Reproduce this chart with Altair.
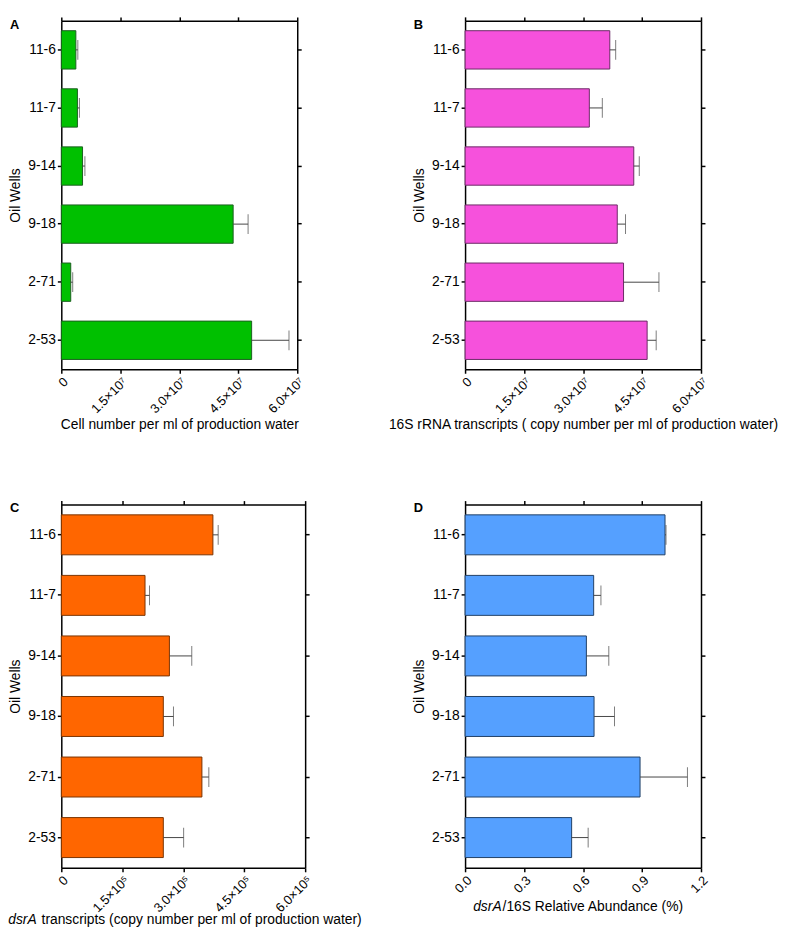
import altair as alt
import pandas as pd

wells = ["11-6", "11-7", "9-14", "9-18", "2-71", "2-53"]

a_vals = [3.7e6, 4.1e6, 5.4e6, 4.37e7, 2.4e6, 4.84e7]
a_errs = [0.5e6, 0.5e6, 0.6e6, 0.38e7, 0.5e6, 0.95e7]

b_vals = [3.68e7, 3.16e7, 4.29e7, 3.87e7, 4.03e7, 4.63e7]
b_errs = [0.15e7, 0.33e7, 0.14e7, 0.21e7, 0.90e7, 0.23e7]

c_vals = [3.73e5, 2.06e5, 2.66e5, 2.51e5, 3.46e5, 2.51e5]
c_errs = [0.13e5, 0.11e5, 0.55e5, 0.25e5, 0.17e5, 0.50e5]

d_vals = [1.017, 0.654, 0.617, 0.656, 0.890, 0.542]
d_errs = [0.005, 0.037, 0.114, 0.104, 0.241, 0.084]

ticks_e7 = [0, 1.5e7, 3.0e7, 4.5e7, 6.0e7]
ticks_e5 = [0, 1.5e5, 3.0e5, 4.5e5, 6.0e5]
ticks_d = [0, 0.3, 0.6, 0.9, 1.2]

FONT = "Liberation Sans"


def panel(vals, errs, fill, stroke, letter, ticks, label_expr, title, width, height,
          ital=None, rest=None, jx=0, gap=1, ty=0):
    df = pd.DataFrame({"well": wells, "v": vals,
                       "hi": [v + e for v, e in zip(vals, errs)]})
    base = alt.Chart(df)
    xs = alt.Scale(domain=[ticks[0], ticks[-1]], nice=False, zero=True)
    ys = alt.Scale(paddingInner=0.34, paddingOuter=0.17)
    xaxis = alt.Axis(values=ticks, labelExpr=label_expr, labelAngle=-45,
                     labelAlign="right", labelBaseline="top", labelFontSize=13,
                     title=title if title else None, titlePadding=2)
    bars = base.mark_bar(color=fill, stroke=stroke, strokeWidth=1).encode(
        x=alt.X("v:Q", scale=xs, axis=xaxis),
        y=alt.Y("well:N", sort=wells, scale=ys,
                axis=alt.Axis(title="Oil Wells", titlePadding=5, labelPadding=2)),
    )
    rule = base.mark_rule(color="#444444", strokeWidth=1).encode(
        x=alt.X("v:Q", scale=xs, axis=None),
        x2="hi:Q",
        y=alt.Y("well:N", sort=wells, axis=None),
    )
    cap = base.mark_tick(color="#444444", thickness=1, size=20).encode(
        x=alt.X("hi:Q", scale=xs, axis=None),
        y=alt.Y("well:N", sort=wells, axis=None),
    )
    mirror = base.mark_bar(opacity=0).encode(
        x=alt.X("v:Q", scale=xs,
                axis=alt.Axis(orient="top", values=ticks, labels=False, title=None)),
        y=alt.Y("well:N", sort=wells,
                axis=alt.Axis(orient="right", labels=False, title=None)),
    )
    lab = alt.Chart(pd.DataFrame({"t": [letter]})).mark_text(
        align="left", baseline="alphabetic", fontWeight="bold", fontSize=13,
        font=FONT, color="black").encode(
        x=alt.value(-52), y=alt.value(8), text="t:N")
    layers = [bars, rule, cap, mirror, lab]
    if ital:
        t1 = alt.Chart(pd.DataFrame({"t": [ital]})).mark_text(
            align="right", baseline="middle", fontStyle="italic", fontSize=14,
            font=FONT, color="black").encode(
            x=alt.value(jx), y=alt.value(ty), text="t:N")
        t2 = alt.Chart(pd.DataFrame({"t": [rest]})).mark_text(
            align="left", baseline="middle", fontSize=14,
            font=FONT, color="black").encode(
            x=alt.value(jx + gap), y=alt.value(ty), text="t:N")
        layers += [t1, t2]
    return alt.layer(*layers).resolve_axis(x="independent", y="independent").properties(
        width=width, height=height)


expr7 = "datum.value == 0 ? '0' : format(datum.value / 1e7, '.1f') + '\u00d710\u2077'"
expr5 = "datum.value == 0 ? '0' : format(datum.value / 1e5, '.1f') + '\u00d710\u2075'"
exprd = "format(datum.value, '.1f')"

A = panel(a_vals, a_errs, "#00C000", "#1b5e20", "A", ticks_e7, expr7,
          "Cell number per ml of production water", 239, 353)
B = panel(b_vals, b_errs, "#F651DC", "#6b2a66", "B", ticks_e7, expr7,
          "16S rRNA transcripts ( copy number per ml of production water)", 239, 353)
C = panel(c_vals, c_errs, "#FF6600", "#7a3300", "C", ticks_e5, expr5,
          None, 247, 368, ital="dsrA",
          rest="transcripts (copy number per ml of production water)", jx=-25, gap=5,
          ty=421)
D = panel(d_vals, d_errs, "#55A0FF", "#1f3f66", "D", ticks_d, exprd,
          None, 239, 368, ital="dsrA", rest="/16S Relative Abundance (%)",
          jx=37, gap=1, ty=408)

chart = alt.concat(A, B, C, D, columns=2, spacing={"row": 137, "column": 162},
                   bounds="flush").properties(
    padding={"left": 0, "top": 2, "right": 0, "bottom": 0}
).configure_axis(
    domainColor="black", domainWidth=1.5, tickColor="black", tickWidth=1.5,
    tickSize=4, grid=False, labelFont=FONT, labelFontSize=14, labelColor="black",
    titleFont=FONT, titleFontSize=14, titleFontWeight="normal", titleColor="black",
).configure_view(stroke=None)

chart.save("out.html", embed_options={"renderer": "svg", "actions": False})
